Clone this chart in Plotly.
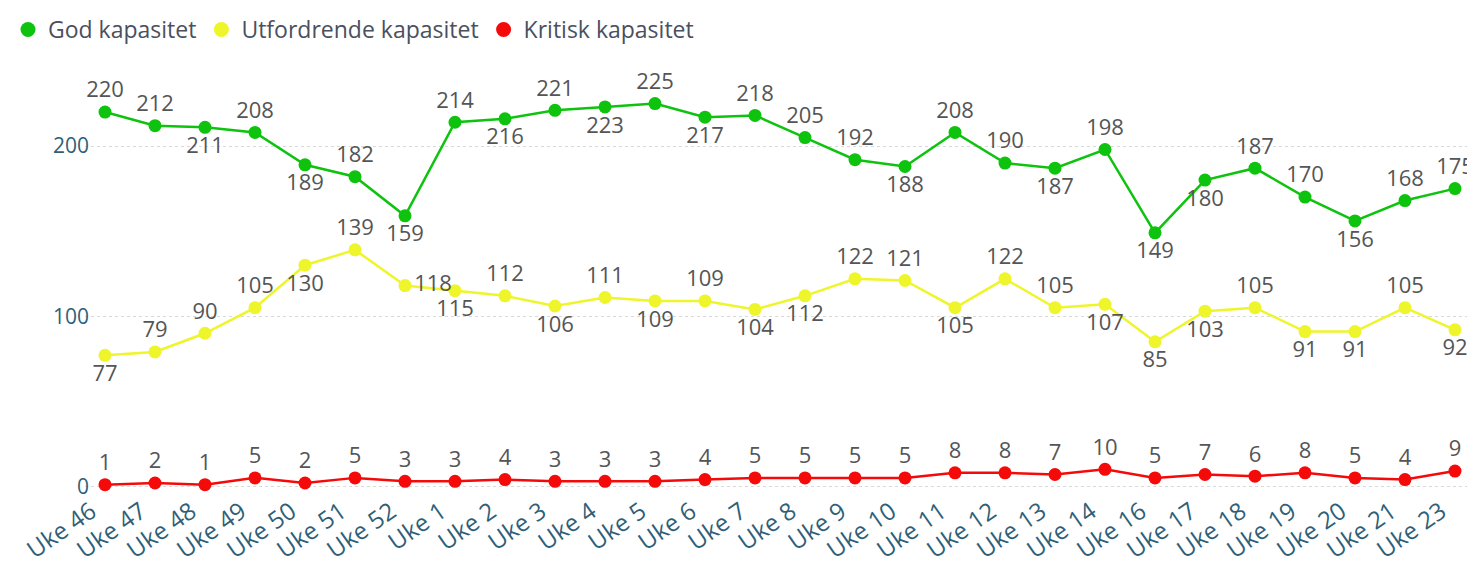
import plotly.graph_objects as go

weeks = [
    "Uke 46", "Uke 47", "Uke 48", "Uke 49", "Uke 50", "Uke 51", "Uke 52",
    "Uke 1", "Uke 2", "Uke 3", "Uke 4", "Uke 5", "Uke 6", "Uke 7", "Uke 8",
    "Uke 9", "Uke 10", "Uke 11", "Uke 12", "Uke 13", "Uke 14", "Uke 16",
    "Uke 17", "Uke 18", "Uke 19", "Uke 20", "Uke 21", "Uke 23",
]

god = [220, 212, 211, 208, 189, 182, 159, 214, 216, 221, 223, 225, 217, 218,
       205, 192, 188, 208, 190, 187, 198, 149, 180, 187, 170, 156, 168, 175]
utfordrende = [77, 79, 90, 105, 130, 139, 118, 115, 112, 106, 111, 109, 109, 104,
               112, 122, 121, 105, 122, 105, 107, 85, 103, 105, 91, 91, 105, 92]
kritisk = [1, 2, 1, 5, 2, 5, 3, 3, 4, 3, 3, 3, 4, 5,
           5, 5, 5, 8, 8, 7, 10, 5, 7, 6, 8, 5, 4, 9]

T, B, R = "top center", "bottom center", "middle right"
god_pos = [T, T, B, T, B, T, B, T, B, T, B, T, B, T,
           T, T, B, T, T, B, T, B, B, T, T, B, T, T]
utf_pos = [B, T, T, T, B, T, R, B, T, B, T, B, T, B,
           B, T, T, B, T, T, B, B, B, T, B, B, T, B]

FONT = "Segoe UI, Open Sans, sans-serif"
GREEN = "#0ec30e"
YELLOW = "#eef52a"
RED = "#f50a0a"
AXIS_TXT = "#2f5f78"

series = [
    ("God kapasitet", god, GREEN, god_pos),
    ("Utfordrende kapasitet", utfordrende, YELLOW, utf_pos),
    ("Kritisk kapasitet", kritisk, RED, [T] * len(kritisk)),
]

fig = go.Figure()

for name, values, color, pos in series:
    fig.add_trace(
        go.Scatter(
            x=weeks,
            y=values,
            mode="lines+markers+text",
            text=[str(v) for v in values],
            textposition=pos,
            textfont=dict(size=22, color="#555555", family=FONT),
            line=dict(color=color, width=2.5),
            marker=dict(color=color, size=13),
            cliponaxis=False,
            showlegend=False,
            hoverinfo="x+y",
            name=name,
        )
    )

# legend shows only the dots
for name, values, color, pos in series:
    fig.add_trace(
        go.Scatter(
            x=[None],
            y=[None],
            mode="markers",
            marker=dict(color=color, size=15),
            name=name,
            showlegend=True,
        )
    )

# the page body adds an 8px offset, so the figure is a bit smaller than the window
fig.update_layout(
    width=1467,
    height=559,
    margin=dict(l=77, r=2, t=53, b=67),
    paper_bgcolor="white",
    plot_bgcolor="white",
    font=dict(family=FONT),
    legend=dict(
        orientation="h",
        x=0,
        xref="container",
        xanchor="left",
        y=1,
        yref="container",
        yanchor="top",
        font=dict(size=23, color="#4a5060"),
        itemwidth=30,
        tracegroupgap=0,
    ),
    xaxis=dict(
        type="category",
        range=[-0.4, 27.36],
        automargin=False,
        showgrid=False,
        showline=False,
        zeroline=False,
        tickangle=-35,
        tickfont=dict(size=24, color=AXIS_TXT),
        ticks="",
        ticklabelstandoff=-8,
        ticklabelshift=-14,
    ),
    yaxis=dict(
        range=[-8, 250],
        automargin=False,
        tickvals=[0, 100, 200],
        showgrid=True,
        gridcolor="#d9d9d9",
        griddash="dot",
        gridwidth=1,
        zeroline=False,
        showline=False,
        tickfont=dict(size=21, color=AXIS_TXT),
        ticklabelstandoff=-5,
    ),
)

fig.write_html("out.html")
